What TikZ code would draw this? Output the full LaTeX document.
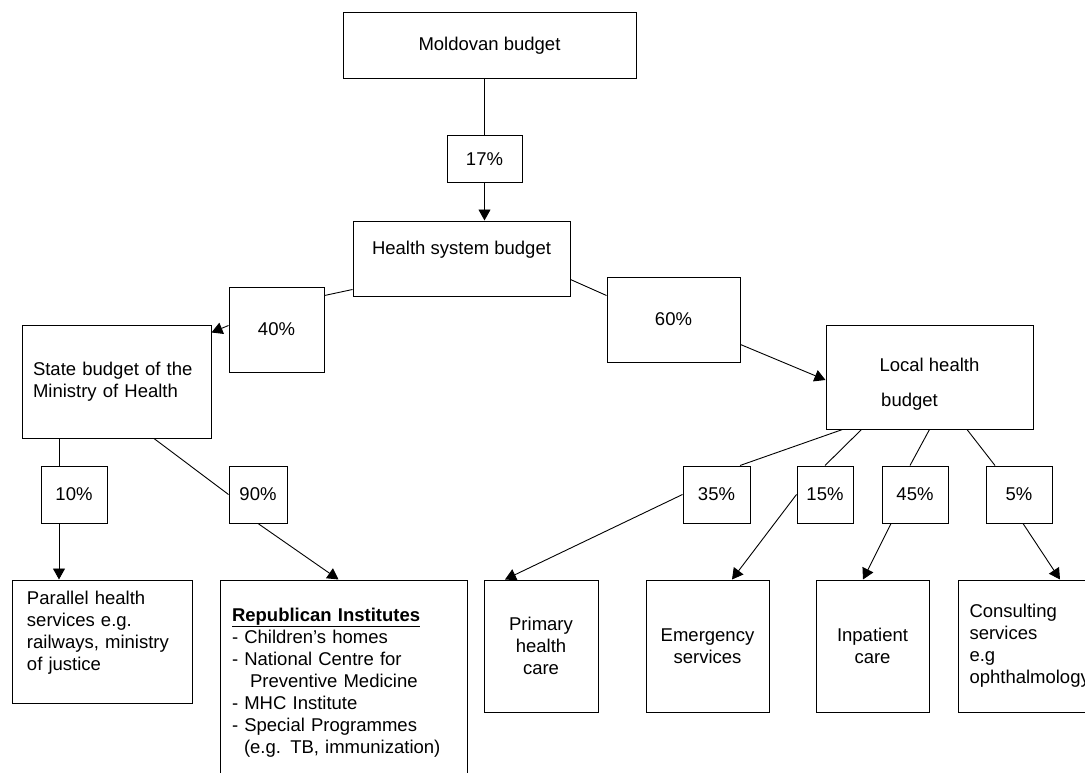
\documentclass[tikz,border=0pt]{standalone}
\usepackage{fontspec}
\setmainfont{Liberation Sans}
\usetikzlibrary{arrows.meta}

\begin{document}
\begin{tikzpicture}[x=1pt, y=-1pt,
    font=\fontsize{18.5}{22}\selectfont,
    box/.style={draw, line width=1pt, inner sep=0pt},
    pct/.style={box, minimum height=57pt},
    link/.style={line width=0.9pt},
    arr/.style={line width=0.9pt, -{Triangle[length=11pt,width=12pt]}}]
    \useasboundingbox (0,0) rectangle (1085,773);
    \clip (0,0) rectangle (1085,773);

    % top of the tree
    \node[box, minimum width=293pt, minimum height=66pt] (mold) at (489.5,46) {Moldovan budget};
    \node[box, minimum width=75pt, minimum height=47pt] (p17) at (484.5,159.5) {17\%};
    \node[box, minimum width=217pt, minimum height=75pt, align=center] (health) at (461.5,258.5) {Health system budget\\\mbox{}};
    \node[box, minimum width=95pt, minimum height=85pt] (p40) at (276.5,329.5) {40\%};
    \node[box, minimum width=133pt, minimum height=85pt] (p60) at (673.5,319.5) {60\%};

    % state side
    \node[box, minimum height=113pt, text width=167pt, inner xsep=11pt, align=left] (state) at (116.5,381.5) {State budget of the\\Ministry of Health};
    \node[pct, minimum width=66pt] (p10) at (74,494.5) {10\%};
    \node[pct, minimum width=58pt] (p90) at (258,494.5) {90\%};
    \node[box, minimum height=123pt, text width=150pt, inner xsep=15pt, align=left] (parallel) at (102,641.5) {Parallel health\\services e.g.\\railways, ministry\\of justice\\\mbox{}};
    \node[box, minimum height=205pt, text width=223pt, inner xsep=12pt, align=left] (repub) at (343.5,682.5)
      {\underline{\textbf{Republican Institutes}}\\- Children’s homes\\- National Centre for\\\hspace*{18pt}Preventive Medicine\\- MHC Institute\\- Special Programmes\\\hspace*{12pt}(e.g. TB, immunization)};

    % local side
    \node[box, minimum width=207pt, minimum height=104pt, align=center] (local) at (929.5,377)
      {\mbox{}\\[6pt]Local health\hspace*{40pt}\\[13pt]budget\hspace*{40pt}};
    \node[pct, minimum width=67pt] (p35) at (716.5,494.5) {35\%};
    \node[pct, minimum width=56pt] (p15) at (825,494.5) {15\%};
    \node[pct, minimum width=66pt] (p45) at (915,494.5) {45\%};
    \node[pct, minimum width=66pt] (p5) at (1019,494.5) {5\%};
    \node[box, minimum width=114pt, minimum height=132pt, align=center] (primary) at (541,646) {Primary\\health\\care};
    \node[box, minimum width=123pt, minimum height=132pt, align=center] (emerg) at (707.5,646) {Emergency\\services};
    \node[box, minimum width=113pt, minimum height=132pt, align=center] (inpat) at (872.5,646) {Inpatient\\care};
    \node[box, anchor=west, minimum height=132pt, text width=125pt, inner xsep=11pt, align=left] (consult) at (958,646)
      {Consulting\\services\\e.g\\ophthalmology};

    % connectors
    \draw[link] (p17.north |- mold.south) -- (p17.north);
    \draw[arr] (p17.south) -- (p17.south |- health.north);
    \draw[link] ([yshift=7pt]health.south west) -- ([yshift=-9pt]p40.north east);
    \draw[arr] ([yshift=-39pt]p40.north west) -- ([yshift=-8pt]state.north east);
    \draw[link] ([yshift=17pt]health.south east) -- ([yshift=-19pt]p60.north west);
    \draw[arr] ([yshift=18pt]p60.south east) -- ([yshift=-3pt]local.west);

    \draw[link] ([xshift=-15pt]p10.north |- state.south) -- ([xshift=-15pt]p10.north);
    \draw[arr] ([xshift=-15pt]p10.south) -- ([xshift=-15pt]p10.south |- parallel.north);
    \draw[link] ([xshift=37.5pt]state.south) -- (p90.west);
    \draw[arr] (p90.south) -- ([xshift=-5pt]repub.north);

    \draw[link] ([xshift=17pt]local.south west) -- ([xshift=23.5pt]p35.north);
    \draw[link] ([xshift=36pt]local.south west) -- (p15.north);
    \draw[link] (local.south) -- ([xshift=-5pt]p45.north);
    \draw[link] ([xshift=37.5pt]local.south) -- ([xshift=-24pt]p5.north);
    \draw[arr] (p35.west) -- ([xshift=-36pt]primary.north);
    \draw[arr] (p15.west) -- ([xshift=24.5pt]emerg.north);
    \draw[arr] ([xshift=-24pt]p45.south) -- ([xshift=-9.5pt]inpat.north);
    \draw[arr] ([xshift=4pt]p5.south) -- ([xshift=102pt]consult.north west);
\end{tikzpicture}
\end{document}
